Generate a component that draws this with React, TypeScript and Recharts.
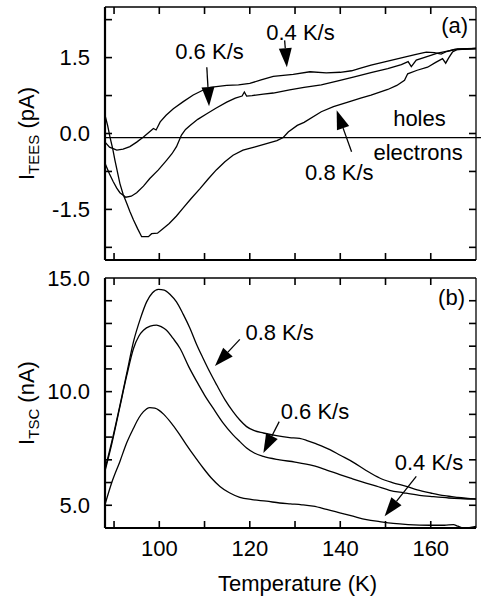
import React from "react";
import { LineChart, Line, XAxis, YAxis, ReferenceLine, ReferenceDot } from "recharts";

const FONT = "'Liberation Sans', Arial, sans-serif";

type Pt = { t: number; v: number };
const pts = (rows: number[][]): Pt[] => rows.map(([t, v]) => ({ t, v }));

// (a) thermally stimulated exoelectron current, pA
const tees04 = pts([
  [88.0, -0.17], [89.0, -0.27], [90.6, -0.33], [92.0, -0.31], [93.5, -0.26], [95.0, -0.17],
  [96.5, -0.07], [97.8, 0.03], [98.7, 0.1], [99.3, 0.07], [100.2, 0.23], [101.5, 0.36],
  [103.1, 0.49], [105.3, 0.63], [107.5, 0.76], [109.5, 0.85], [111.2, 0.91], [114.9, 0.95],
  [117.5, 0.96], [120.0, 0.99], [122.5, 1.06], [125.2, 1.13], [129.6, 1.17], [133.3, 1.22],
  [136.9, 1.2], [140.0, 1.21], [142.5, 1.24], [144.5, 1.29], [146.8, 1.35], [150.5, 1.43],
  [154.2, 1.51], [157.0, 1.57], [159.0, 1.61], [160.8, 1.6], [162.3, 1.57], [163.5, 1.62],
  [165.2, 1.66], [168.0, 1.67], [170.0, 1.68],
]);
const tees06 = pts([
  [88.0, -0.59], [89.0, -0.8], [89.8, -0.95], [90.6, -1.08], [91.3, -1.17], [92.6, -1.26],
  [93.8, -1.24], [95.0, -1.17], [96.5, -1.04], [97.9, -0.89], [99.8, -0.72], [101.6, -0.53],
  [102.8, -0.4], [103.8, -0.26], [104.9, -0.03], [105.8, 0.08], [106.8, 0.16], [108.5, 0.28],
  [110.5, 0.39], [112.5, 0.5], [114.9, 0.62], [116.8, 0.7], [118.3, 0.74], [118.8, 0.82],
  [119.3, 0.74], [120.5, 0.75], [123.0, 0.78], [125.2, 0.8], [128.8, 0.86], [132.0, 0.91],
  [135.8, 0.96], [139.5, 1.04], [143.1, 1.12], [147.0, 1.21], [150.5, 1.28], [153.5, 1.36],
  [155.0, 1.42], [155.7, 1.32], [156.8, 1.45], [159.5, 1.53], [161.5, 1.59], [163.7, 1.63],
  [165.9, 1.67], [170.0, 1.68],
]);
const tees08 = pts([
  [88.0, 0.36], [88.6, 0.15], [89.1, -0.07], [89.7, -0.3], [90.2, -0.53], [91.3, -0.99],
  [92.0, -1.2], [92.8, -1.38], [93.5, -1.54], [94.3, -1.71], [95.2, -1.88], [96.1, -2.04],
  [97.6, -2.04], [98.3, -1.98], [99.6, -1.97], [100.8, -1.88], [102.2, -1.78], [103.8, -1.63],
  [105.2, -1.48], [107.0, -1.29], [109.0, -1.09], [110.8, -0.9], [112.6, -0.72], [114.5, -0.56],
  [116.3, -0.43], [118.5, -0.33], [121.0, -0.27], [123.7, -0.2], [126.0, -0.14], [127.4, -0.08],
  [128.5, 0.03], [130.5, 0.16], [132.0, 0.22], [135.8, 0.43], [138.5, 0.53], [141.7, 0.62],
  [144.5, 0.7], [146.8, 0.76], [150.5, 0.87], [152.5, 0.95], [154.2, 1.05], [154.9, 1.18],
  [157.0, 1.25], [159.3, 1.31], [161.0, 1.4], [162.6, 1.48], [163.3, 1.39], [164.0, 1.5],
  [164.8, 1.61], [165.9, 1.66], [170.0, 1.68],
]);

// (b) thermally stimulated current, nA
const tsc04 = pts([
  [88.0, 5.03], [89.5, 6.0], [91.3, 6.93], [92.8, 7.75], [94.3, 8.39], [95.5, 8.85],
  [96.5, 9.12], [97.9, 9.3], [99.0, 9.27], [99.8, 9.2], [101.0, 9.0], [102.4, 8.68],
  [104.2, 8.2], [106.0, 7.66], [107.8, 7.15], [109.7, 6.64], [111.5, 6.2], [113.4, 5.83],
  [115.5, 5.55], [117.8, 5.35], [120.5, 5.25], [123.7, 5.18], [126.6, 5.1], [129.0, 5.06],
  [131.5, 5.02], [134.0, 4.96], [137.0, 4.82], [139.9, 4.67], [142.8, 4.52], [145.8, 4.37],
  [148.7, 4.28], [151.7, 4.2], [155.0, 4.15], [159.8, 4.12], [163.0, 4.12], [165.0, 4.15],
  [166.0, 4.08], [167.1, 4.0], [168.5, 4.02], [170.0, 4.07],
]);
const tsc06 = pts([
  [88.0, 6.5], [89.5, 7.7], [91.3, 9.34], [92.8, 10.7], [94.3, 11.9], [95.5, 12.45],
  [96.5, 12.7], [98.0, 12.88], [99.4, 12.93], [100.5, 12.85], [101.6, 12.7], [103.0, 12.35],
  [104.6, 11.9], [106.5, 11.1], [108.3, 10.44], [110.0, 9.85], [111.9, 9.27], [114.0, 8.65],
  [116.3, 8.1], [117.8, 7.8], [119.3, 7.52], [121.0, 7.3], [123.0, 7.15], [126.6, 7.0],
  [130.0, 6.9], [134.0, 6.74], [137.0, 6.55], [139.9, 6.35], [142.5, 6.18], [145.0, 6.02],
  [148.0, 5.84], [150.9, 5.66], [154.0, 5.55], [157.5, 5.44], [160.5, 5.38], [164.0, 5.32],
  [170.0, 5.27],
]);
const tsc08 = pts([
  [88.0, 6.6], [89.5, 7.8], [91.3, 9.4], [92.8, 10.8], [94.3, 12.2], [95.8, 13.2],
  [97.2, 13.95], [98.5, 14.35], [99.8, 14.5], [101.1, 14.47], [102.5, 14.25], [103.8, 13.95],
  [105.3, 13.4], [106.8, 12.78], [108.2, 12.1], [109.7, 11.46], [111.2, 10.85], [112.7, 10.29],
  [114.5, 9.65], [116.3, 9.12], [117.8, 8.75], [119.3, 8.46], [121.0, 8.28], [123.0, 8.18],
  [125.9, 8.06], [128.8, 7.98], [131.0, 7.94], [132.5, 7.86], [134.7, 7.7], [137.7, 7.45],
  [140.0, 7.2], [142.8, 6.9], [145.8, 6.52], [148.7, 6.2], [151.5, 6.0], [154.6, 5.83],
  [157.0, 5.68], [160.0, 5.54], [163.0, 5.42], [166.0, 5.35], [170.0, 5.28],
]);

// axes
const tempDomain = [88, 170];
const tempTicks = [90, 100, 110, 120, 130, 140, 150, 160];
const tempLabels = [100, 120, 140, 160];
const teesDomain = [-2.5, 2.5];
const teesTicks = [-2.25, -1.5, -0.75, 0, 0.75, 1.5, 2.25];
const teesLabels = [-1.5, 0, 1.5];
const teesZero = -0.08;
const tscDomain = [4, 15];
const tscTicks = [5, 6, 7, 8, 9, 10, 11, 12, 13, 14];
const tscLabels = [5, 10, 15];

// annotations (data coordinates)
const teesNotes = [
  { t: 131.2, v: 2.0, text: "0.4 K/s" },
  { t: 111.1, v: 1.62, text: "0.6 K/s" },
  { t: 139.8, v: -0.76, text: "0.8 K/s" },
  { t: 157.5, v: 0.3, text: "holes" },
  { t: 157.2, v: -0.37, text: "electrons" },
  { t: 165.3, v: 2.14, text: "(a)" },
];
const teesArrows = [
  { from: [127.7, 1.84], to: [128.2, 1.31] },
  { from: [110.5, 1.31], to: [111.0, 0.54] },
  { from: [142.5, -0.36], to: [139.2, 0.46] },
];
const tscNotes = [
  { t: 126.6, v: 12.6, text: "0.8 K/s" },
  { t: 134.4, v: 9.15, text: "0.6 K/s" },
  { t: 159.6, v: 6.92, text: "0.4 K/s" },
  { t: 164.6, v: 14.15, text: "(b)" },
];
const tscArrows = [
  { from: [117.8, 12.3], to: [112.3, 11.13] },
  { from: [126.5, 8.68], to: [123.0, 7.3] },
  { from: [156.8, 6.27], to: [149.8, 4.52] },
];

const black = "#000";
const tickStyle = { fill: black, fontSize: 22, fontFamily: FONT };

// plot-area sizes, used only to turn a 7 px tick length into data units
const TICK_PX = 7;
const PLOT_W = 371;
const TOP_PLOT_H = 253;
const BOTTOM_PLOT_H = 250;

const Arrow = (p: any) => {
  const { x1, y1, x2, y2 } = p;
  const dx = x2 - x1;
  const dy = y2 - y1;
  const len = Math.hypot(dx, dy) || 1;
  const ux = dx / len;
  const uy = dy / len;
  const hl = 19;
  const hw = 6.5;
  const bx = x2 - ux * hl;
  const by = y2 - uy * hl;
  return (
    <g>
      <line x1={x1} y1={y1} x2={bx} y2={by} stroke={black} strokeWidth={1.3} />
      <polygon
        points={`${x2},${y2} ${bx - uy * hw},${by + ux * hw} ${bx + uy * hw},${by - ux * hw}`}
        fill={black}
      />
    </g>
  );
};

const noteShape = (text: string) => (p: any) => (
  <text x={p.cx} y={p.cy} dy="0.36em" textAnchor="middle" fontSize={22} fontFamily={FONT} fill={black}>
    {text}
  </text>
);

const yTitle = (sub: string, unit: string) => (p: any) => {
  const vb = p.viewBox || {};
  const cx = vb.x + 26;
  const cy = vb.y + vb.height / 2;
  return (
    <text
      x={cx}
      y={cy}
      dy="0.36em"
      textAnchor="middle"
      transform={`rotate(-90, ${cx}, ${cy})`}
      fontSize={22}
      fontFamily={FONT}
      fill={black}
    >
      I
      <tspan fontSize={15} dy={5}>{sub}</tspan>
      <tspan dy={-5}>{` (${unit})`}</tspan>
    </text>
  );
};

const xTitle = (p: any) => {
  const vb = p.viewBox || {};
  return (
    <text
      x={vb.x + vb.width / 2 + 7}
      y={vb.y + 62.5}
      textAnchor="middle"
      fontSize={22}
      fontFamily={FONT}
      fill={black}
    >
      Temperature (K)
    </text>
  );
};

// frame: mirrored axes draw the four border lines
const frameAxes = (yDomain: number[]) => [
  <XAxis
    key="xb"
    xAxisId="xb"
    type="number"
    dataKey="t"
    domain={tempDomain}
    allowDataOverflow
    orientation="bottom"
    mirror
    height={1}
    tick={false}
    tickLine={false}
    axisLine={{ stroke: black, strokeWidth: 2 }}
  />,
  <XAxis
    key="xt"
    xAxisId="xt"
    type="number"
    dataKey="t"
    domain={tempDomain}
    allowDataOverflow
    orientation="top"
    mirror
    height={1}
    tick={false}
    tickLine={false}
    axisLine={{ stroke: black, strokeWidth: 1.3 }}
  />,
  <YAxis
    key="yl"
    yAxisId="yl"
    type="number"
    domain={yDomain}
    allowDataOverflow
    mirror
    width={1}
    tick={false}
    tickLine={false}
    axisLine={{ stroke: black, strokeWidth: 2.2 }}
  />,
  <YAxis
    key="yr"
    yAxisId="yr"
    type="number"
    domain={yDomain}
    allowDataOverflow
    orientation="right"
    mirror
    width={1}
    tick={false}
    tickLine={false}
    axisLine={{ stroke: black, strokeWidth: 1.3 }}
  />,
];

// inward tick marks on all four sides, as tiny two-point series
const tickSeries = (xTicks: number[], yTicks: number[], yDomain: number[], plotH: number) => {
  const [x0, x1] = tempDomain;
  const [y0, y1] = yDomain;
  const dx = ((x1 - x0) * TICK_PX) / PLOT_W;
  const dy = ((y1 - y0) * TICK_PX) / plotH;
  const segs: Pt[][] = [];
  xTicks.forEach((t) => {
    segs.push([{ t, v: y0 }, { t, v: y0 + dy }]);
    segs.push([{ t, v: y1 }, { t, v: y1 - dy }]);
  });
  yTicks.forEach((v) => {
    segs.push([{ t: x0, v }, { t: x0 + dx, v }]);
    segs.push([{ t: x1, v }, { t: x1 - dx, v }]);
  });
  return segs.map((d, i) => (
    <Line
      key={"tick" + i}
      xAxisId="xb"
      yAxisId="yl"
      data={d}
      dataKey="v"
      type="linear"
      stroke={black}
      strokeWidth={1.6}
      dot={false}
      activeDot={false}
      isAnimationActive={false}
    />
  ));
};

const curve = (key: string, data: Pt[], type: "linear" | "monotone") => (
  <Line
    key={key}
    xAxisId="xb"
    yAxisId="yl"
    data={data}
    dataKey="v"
    type={type}
    stroke={black}
    strokeWidth={1.3}
    dot={false}
    isAnimationActive={false}
  />
);

const notes = (list: { t: number; v: number; text: string }[]) =>
  list.map((n) => (
    <ReferenceDot
      key={n.text}
      xAxisId="xb"
      yAxisId="yl"
      x={n.t}
      y={n.v}
      r={0}
      ifOverflow="visible"
      shape={noteShape(n.text)}
    />
  ));

const arrows = (list: { from: number[]; to: number[] }[]) =>
  list.map((a, i) => (
    <ReferenceLine
      key={"a" + i}
      xAxisId="xb"
      yAxisId="yl"
      segment={[
        { x: a.from[0], y: a.from[1] },
        { x: a.to[0], y: a.to[1] },
      ]}
      ifOverflow="visible"
      shape={Arrow}
    />
  ));

export default function App() {
  return (
    <div style={{ position: "absolute", left: 0, top: 0, width: 481, height: 597, background: "#fff" }}>
      <div style={{ position: "absolute", left: 0, top: 0 }}>
        <LineChart width={481} height={262} margin={{ top: 7, right: 5, bottom: 2, left: 0 }}>
          <YAxis
            yAxisId="lab"
            type="number"
            domain={teesDomain}
            allowDataOverflow
            ticks={teesLabels}
            width={105}
            axisLine={false}
            tickLine={false}
            tickSize={0}
            tickMargin={15}
            tick={tickStyle}
            tickFormatter={(v: number) => v.toFixed(1)}
            label={yTitle("TEES", "pA")}
          />
          {frameAxes(teesDomain)}
          {tickSeries(tempTicks, teesTicks, teesDomain, TOP_PLOT_H)}
          <ReferenceLine
            xAxisId="xb"
            yAxisId="yl"
            segment={[
              { x: 88, y: teesZero },
              { x: 171.1, y: teesZero },
            ]}
            ifOverflow="visible"
            stroke={black}
            strokeWidth={1.2}
          />
          {curve("t04", tees04, "linear")}
          {curve("t06", tees06, "linear")}
          {curve("t08", tees08, "linear")}
          {arrows(teesArrows)}
          {notes(teesNotes)}
        </LineChart>
      </div>
      <div style={{ position: "absolute", left: 0, top: 262 }}>
        <LineChart width={481} height={335} margin={{ top: 16, right: 5, bottom: 0, left: 0 }}>
          <XAxis
            xAxisId="lab"
            type="number"
            dataKey="t"
            domain={tempDomain}
            allowDataOverflow
            ticks={tempLabels}
            height={69}
            axisLine={false}
            tickLine={false}
            tickSize={0}
            tickMargin={12}
            tick={tickStyle}
            label={xTitle}
          />
          <YAxis
            yAxisId="lab"
            type="number"
            domain={tscDomain}
            allowDataOverflow
            ticks={tscLabels}
            width={105}
            axisLine={false}
            tickLine={false}
            tickSize={0}
            tickMargin={15}
            tick={tickStyle}
            tickFormatter={(v: number) => v.toFixed(1)}
            label={yTitle("TSC", "nA")}
          />
          {frameAxes(tscDomain)}
          {tickSeries(tempTicks, tscTicks, tscDomain, BOTTOM_PLOT_H)}
          {curve("s04", tsc04, "monotone")}
          {curve("s06", tsc06, "monotone")}
          {curve("s08", tsc08, "monotone")}
          {arrows(tscArrows)}
          {notes(tscNotes)}
        </LineChart>
      </div>
    </div>
  );
}
